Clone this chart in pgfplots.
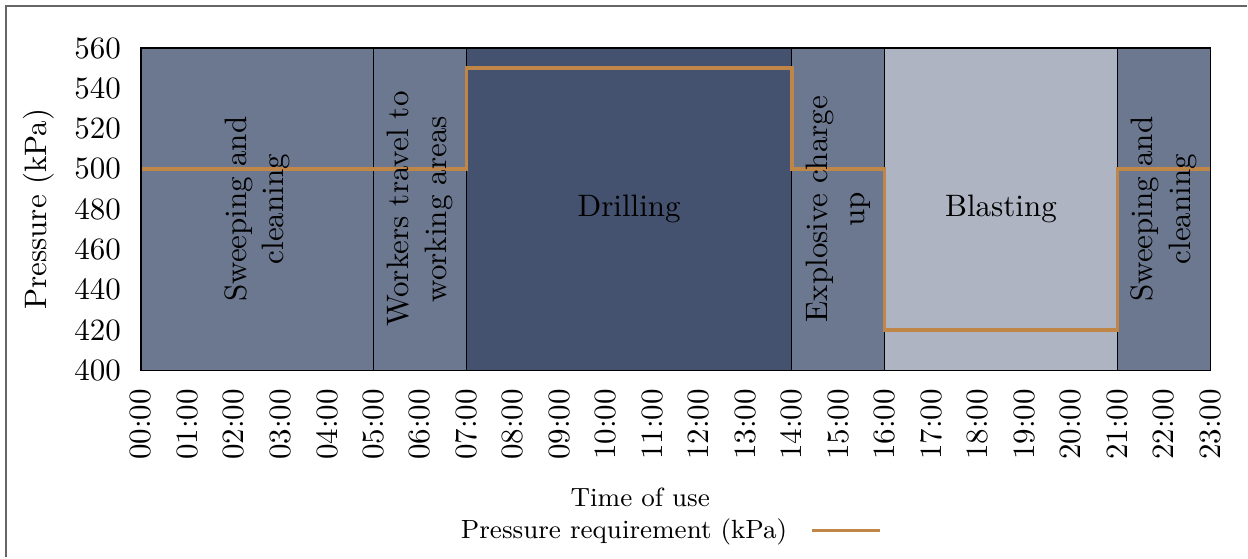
\documentclass[border=0pt]{standalone}
\usepackage{pgfplots}
\pgfplotsset{compat=1.18}
\definecolor{phase}{RGB}{108,120,143}
\definecolor{drill}{RGB}{68,82,111}
\definecolor{blast}{RGB}{174,180,194}
\definecolor{press}{RGB}{191,134,72}
\begin{document}
\begin{tikzpicture}
\begin{axis}[
  name=main,
  scale only axis,
  width=345pt, height=104pt,
  xmin=0, xmax=23, ymin=400, ymax=560,
  xtick={0,...,23},
  xticklabels={00:00,01:00,02:00,03:00,04:00,05:00,06:00,07:00,08:00,09:00,10:00,11:00,12:00,13:00,14:00,15:00,16:00,17:00,18:00,19:00,20:00,21:00,22:00,23:00},
  xticklabel style={rotate=90, anchor=east, xshift=-2.5pt},
  ytick={400,420,...,560},
  yticklabel style={xshift=-3pt},
  major tick length=0pt,
  axis on top,
  xlabel={Time of use},
  xlabel style={at={(axis description cs:0.467,-0.394)}, anchor=center, font=\fontsize{8.5}{10}\selectfont},
  ylabel={Pressure (kPa)},
  ylabel style={at={(axis description cs:-0.0957,0.5)}, anchor=center},
  legend style={at={(0.493,-0.497)}, anchor=center, draw=none, fill=none, font=\fontsize{8.5}{10}\selectfont},
  legend plot pos=right,
  legend image code/.code={\path (0cm,0cm); \draw[#1] (0.19cm,0cm) -- (0.96cm,0cm);},
]
% phase blocks
\addplot[fill=phase, draw=black, forget plot] coordinates {(0,400) (0,560) (5,560) (5,400)} -- cycle;
\addplot[fill=phase, draw=black, forget plot] coordinates {(5,400) (5,560) (7,560) (7,400)} -- cycle;
\addplot[fill=drill, draw=black, forget plot] coordinates {(7,400) (7,560) (14,560) (14,400)} -- cycle;
\addplot[fill=phase, draw=black, forget plot] coordinates {(14,400) (14,560) (16,560) (16,400)} -- cycle;
\addplot[fill=blast, draw=black, forget plot] coordinates {(16,400) (16,560) (21,560) (21,400)} -- cycle;
\addplot[fill=phase, draw=black, forget plot] coordinates {(21,400) (21,560) (23,560) (23,400)} -- cycle;

\addplot[press, line width=1.1pt, const plot] coordinates {
  (0,500) (7,550) (14,500) (16,420) (21,500) (23,500)
};
\addlegendentry{Pressure requirement (kPa)}

\node[rotate=90, align=center] at (axis cs:2.5,480) {Sweeping and\\cleaning};
\node[rotate=90, align=center] at (axis cs:6,480) {Workers travel to\\working areas};
\node at (axis cs:10.5,480) {Drilling};
\node[rotate=90, align=center] at (axis cs:15,480) {Explosive charge\\up};
\node at (axis cs:18.5,480) {Blasting};
\node[rotate=90, align=center] at (axis cs:22,480) {Sweeping and\\cleaning};
\end{axis}
% page extent
\path ([xshift=-45.5pt, yshift=-60.3pt]main.south west) rectangle ([xshift=11.9pt, yshift=15.5pt]main.north east);
% partial frame: left and top edges only
\draw[gray!80!black, line width=0.6pt] ([xshift=-43.5pt, yshift=-60.3pt]main.south west) -- ([xshift=-43.5pt, yshift=13.7pt]main.north west) -- ([xshift=11.9pt, yshift=13.7pt]main.north east);
\end{tikzpicture}
\end{document}
